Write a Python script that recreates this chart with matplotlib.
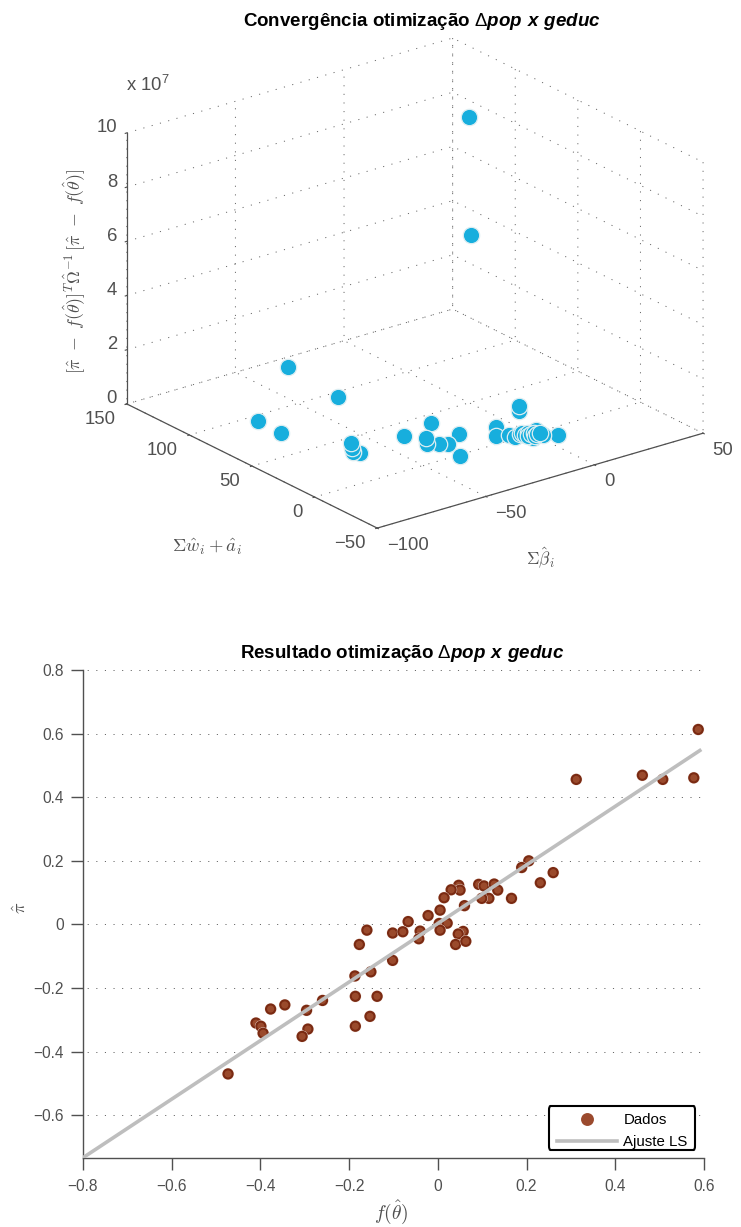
import matplotlib
matplotlib.use('Agg')
import matplotlib.pyplot as plt
import matplotlib.patheffects as pe
from matplotlib.lines import Line2D
from matplotlib.legend_handler import HandlerLine2D
from matplotlib.patches import FancyBboxPatch

plt.rcParams['font.family'] = ['Liberation Sans', 'DejaVu Sans']
plt.rcParams['mathtext.fontset'] = 'cm'
plt.rcParams['mathtext.rm'] = 'Liberation Sans'
plt.rcParams['mathtext.bfit'] = 'Liberation Sans:italic:bold'
plt.rcParams['lines.scale_dashes'] = False

GRAY = '#505050'
W, H = 741, 1227

# Convergence data (z in units of 1e7)
beta = [16.1, 16.4, -31.4, -34.7, -72.2, -72.3, -60.9, -62.4, -60.5, -57.6,
        -38.2, -22.6, -21.5, -33.6, -30.2, -33.0, -36.3, -33.3,
        9.6, 12.6, -6.2, -11.5, 7.0, 2.6, 3.5, -2.1, -7.2, -6.9,
        -3.5, -2.4, -2.7, -0.9, -2.4, -0.3, 1.1, -0.3, 1.4, 2.9]
omega = [76.9, 78.9, 140.1, 94.6, 93.7, 75.0, 31.6, 34.8, 38.4, 44.4,
         35.9, 41.0, 21.1, -1.0, 14.4, 16.7, 20.7, 26.7,
         26.9, 32.0, 17.8, 8.7, -8.5, -4.5, 2.7, -4.6, 5.5, 1.5,
         3.3, 3.8, 0.8, 1.5, -1.1, 0.1, 0.2, -3.1, -1.7, -1.6]
cost = [5.2, 9.5, 0, 0, 0, 0, 0, 0, 0, 0,
        0, 0, 0, 0, 0, 0, 0, 0,
        0, 0, 0, 0, 0, 0, 0, 0, 0, 0,
        0, 0, 0, 0, 0, 0, 0, 0, 0, 0]

beta_ticks = [-100, -50, 0, 50]
omega_ticks = [-50, 0, 50, 100, 150]
cost_ticks = [0, 2, 4, 6, 8, 10]

# Fit result data
f_theta = [0.587, 0.312, 0.461, 0.507, 0.577, 0.205, 0.189, 0.260, 0.231, 0.166,
           0.092, 0.104, 0.127, 0.135, 0.115, 0.099, 0.060, 0.047, 0.050, 0.030,
           0.014, 0.005, -0.022, -0.067, -0.160, -0.102, -0.079, -0.040, -0.043, 0.003,
           0.021, 0.005, 0.057, 0.046, 0.040, 0.063, -0.177, -0.102, -0.151, -0.187,
           -0.186, -0.137, -0.153, -0.186, -0.260, -0.296, -0.345, -0.377, -0.410, -0.399,
           -0.394, -0.293, -0.306, -0.473]
pi_hat = [0.613, 0.456, 0.469, 0.456, 0.461, 0.200, 0.179, 0.163, 0.131, 0.082,
          0.126, 0.121, 0.127, 0.108, 0.082, 0.082, 0.059, 0.123, 0.108, 0.109,
          0.084, 0.045, 0.028, 0.009, -0.018, -0.027, -0.023, -0.021, -0.045, 0.003,
          0.004, -0.018, -0.022, -0.030, -0.063, -0.053, -0.063, -0.113, -0.149, -0.162,
          -0.226, -0.226, -0.289, -0.320, -0.239, -0.270, -0.253, -0.266, -0.310, -0.320,
          -0.342, -0.329, -0.352, -0.470]
fit_x = [-0.8, 0.594]
fit_y = [-0.7334, 0.55]

x_ticks = [-0.8, -0.6, -0.4, -0.2, 0, 0.2, 0.4, 0.6]
x_labels = ['\u22120.8', '\u22120.6', '\u22120.4', '\u22120.2', '0', '0.2', '0.4', '0.6']
y_ticks = [-0.6, -0.4, -0.2, 0, 0.2, 0.4, 0.6, 0.8]
y_labels = ['\u22120.6', '\u22120.4', '\u22120.2', '0', '0.2', '0.4', '0.6', '0.8']

fig = plt.figure(figsize=(W / 100, H / 100), dpi=100)

# --- Top panel: 3D convergence
ax3 = fig.add_axes([90.4 / W, 619.4 / H, 632 / W, 632 / H],
                   projection='3d', proj_type='ortho')
ax3.set_box_aspect((410.5, 411.6, 293))
ax3.view_init(elev=22.33, azim=-127.47)
ax3.patch.set_alpha(0)
ax3.plot(beta, omega, cost, 'o', ms=11.8, mfc='#17AEDD', mec='#DDEEF2', mew=0.9, clip_on=False)
ax3.set_xlim(-100, 50, view_margin=0)
ax3.set_ylim(-50, 150, view_margin=0)
ax3.set_zlim(0, 10, view_margin=0)
ax3.set_xticks(beta_ticks)
ax3.set_yticks(omega_ticks)
ax3.set_zticks(cost_ticks)
ax3.tick_params(labelsize=13.3, colors=GRAY)
ax3.tick_params(axis='x', pad=1)
ax3.tick_params(axis='y', pad=0.5)
ax3.tick_params(axis='z', pad=-4)
plt.setp(ax3.get_xticklabels(), ha='left', va='center_baseline')
plt.setp(ax3.get_yticklabels(), ha='right', va='center_baseline')
plt.setp(ax3.get_zticklabels(), ha='right', va='baseline')

for axis in (ax3.xaxis, ax3.yaxis, ax3.zaxis):
    axis.pane.fill = False
    axis.pane.set_edgecolor('none')
    axis.line.set_color(GRAY)
    axis.line.set_linewidth(0.9)
    axis._axinfo['grid'].update(color='#666666', linewidth=0.7, linestyle=(0, (0.8, 5.4)))
    axis._axinfo['tick'].update(inward_factor=0.06, outward_factor=0.0)
    axis._axinfo['tick']['linewidth'] = {True: 0.8, False: 0.5}

fig.text(421.5 / W, 1 - 21.5 / H, r'Convergência otimização $\Delta\mathbfit{pop\ x\ geduc}$',
         ha='center', va='center', fontsize=13.5, fontweight='bold', math_fontfamily='custom')
fig.text(126 / W, 1 - 85 / H, r'x 10$^{7}$', ha='left', va='center', fontsize=13.3,
         color=GRAY, math_fontfamily='custom')
fig.text(74 / W, 1 - 272 / H,
         r'$[\hat{\pi}\ -\ f(\hat{\theta})]^T\hat{\Omega}^{-1}\,[\hat{\pi}\ -\ f(\hat{\theta})]$',
         rotation=90, ha='center', va='center', fontsize=12.8, color=GRAY, math_fontfamily='cm')
fig.text(207 / W, 1 - 547 / H, r'$\Sigma\hat{w}_i+\hat{a}_i$', ha='center', va='center',
         fontsize=13.3, color=GRAY, math_fontfamily='cm')
fig.text(540 / W, 1 - 558 / H, r'$\Sigma\hat{\beta}_i$', ha='center', va='center',
         fontsize=12.5, color=GRAY, math_fontfamily='cm')

# --- Bottom panel: fit
ax = fig.add_axes([83 / W, (H - 1157.7) / H, 621 / W, 487.7 / H])
ax.plot(f_theta, pi_hat, 'o', ms=6.6, mfc='#9A4A2C', mec='#7A2A12', mew=1.5, zorder=3,
        clip_on=False, path_effects=[pe.withStroke(linewidth=2.0, foreground='#F3E3DC')])
ax.plot(fit_x, fit_y, color='#BEBEBE', lw=2.6, zorder=4, solid_capstyle='butt')
ax.set_xlim(-0.8, 0.6)
ax.set_ylim(-0.7334, 0.8)
ax.set_xticks(x_ticks)
ax.set_xticklabels(x_labels)
ax.set_yticks(y_ticks)
ax.set_yticklabels(y_labels)
ax.tick_params(direction='out', length=8.6, width=1.0, color=GRAY, labelcolor=GRAY,
               labelsize=11.2, pad=5)
ax.tick_params(axis='x', pad=6.5)
ax.spines['top'].set_visible(False)
ax.spines['right'].set_visible(False)
for side in ('left', 'bottom'):
    ax.spines[side].set_color(GRAY)
    ax.spines[side].set_linewidth(1.0)
ax.grid(True, axis='y', color='#666666', lw=0.7, linestyle=(3.2, (0.8, 5.4)))
ax.set_axisbelow(True)

# Legend frame is drawn apart so its side padding can differ from the top and bottom
frame = FancyBboxPatch((549 / W, 1 - 1150 / H), 146 / W, 44 / H, transform=fig.transFigure,
                       boxstyle='round,pad=0,rounding_size=0.002', mutation_aspect=H / W,
                       fc='white', ec='black', lw=1.5, zorder=5)
ax.add_patch(frame)
handles = [Line2D([], [], ls='none', marker='o', ms=9.3, mfc='#9B4A2E', mec='none'),
           Line2D([], [], color='#BEBEBE', lw=2.6)]
leg = ax.legend(handles, ['Dados', 'Ajuste LS'], loc='lower left',
                bbox_to_anchor=((556.5 - 83) / 621, (1157.7 - 1149) / 487.7),
                borderaxespad=0, fontsize=10.8, handlelength=4.0, handletextpad=0.45,
                borderpad=0, labelspacing=0.55, frameon=False,
                handler_map={handles[1]: HandlerLine2D(marker_pad=0.1)})
leg.set_zorder(6)

fig.text(402 / W, 1 - 653.5 / H, r'Resultado otimização $\Delta\mathbfit{pop\ x\ geduc}$',
         ha='center', va='center', fontsize=13.5, fontweight='bold', math_fontfamily='custom')
fig.text(391 / W, 1 - 1212 / H, r'$f(\hat{\theta})$', ha='center', va='center',
         fontsize=14, color=GRAY, math_fontfamily='cm')
fig.text(20 / W, 1 - 908 / H, r'$\hat{\pi}$', rotation=90, ha='center', va='center',
         fontsize=13, color=GRAY, math_fontfamily='cm')

fig.savefig('out.png', dpi=100)
